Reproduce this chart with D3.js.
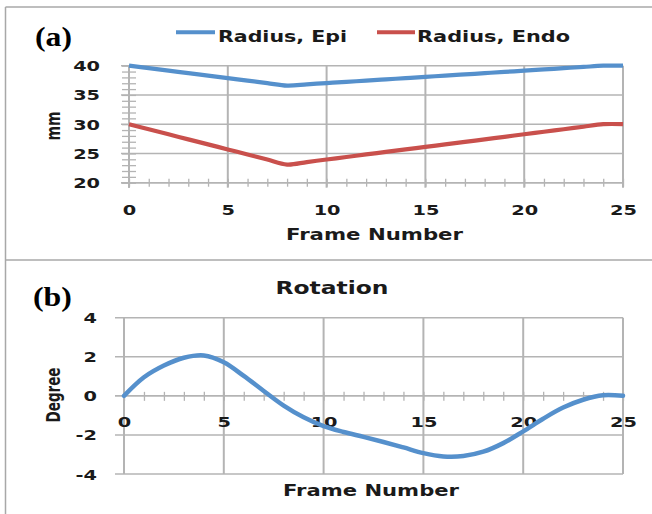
<!DOCTYPE html>
<html><head><meta charset="utf-8">
<script src="https://cdn.jsdelivr.net/npm/d3@7"></script>
<style>
html,body{margin:0;padding:0;background:#fff;}
svg{display:block;}
text{font-family:"DejaVu Sans",Verdana,sans-serif;font-weight:bold;fill:#1a1a1a;}
</style></head>
<body>
<script>
// ---- data ----
const frames = [0,1,2,3,4,5,6,7,8,9,10,11,12,13,14,15,16,17,18,19,20,21,22,23,24,25];
const radiusEpi  = [40.0,39.58,39.15,38.73,38.30,37.88,37.45,37.03,36.6,36.81,37.03,37.24,37.45,37.66,37.88,38.09,38.30,38.51,38.73,38.94,39.15,39.36,39.58,39.79,40.0,40.0];
const radiusEndo = [30.0,29.14,28.28,27.41,26.55,25.69,24.83,23.96,23.1,23.53,23.96,24.39,24.83,25.26,25.69,26.12,26.55,26.98,27.41,27.84,28.28,28.71,29.14,29.57,30.0,30.0];
const rotation   = [0,0.95,1.55,1.95,2.07,1.72,1.02,0.25,-0.5,-1.1,-1.55,-1.85,-2.1,-2.36,-2.64,-2.93,-3.1,-3.08,-2.86,-2.42,-1.82,-1.17,-0.6,-0.2,0.03,0.0];
const seriesNamesA = ["Radius, Epi","Radius, Endo"];
const xTicks = [0,5,10,15,20,25];
const yTicksA = [20,25,30,35,40];
const yTicksB = [-4,-2,0,2,4];
const minorX = frames;
const minorYA = [20,21,22,23,24,25,26,27,28,29,30,31,32,33,34,35,36,37,38,39,40];

// ---- style ----
const W = 652, H = 514;
const SX = 1.38;
const gridC = "#b4b4b4";
const blue = "#5590cc", red = "#c9504c";
const fmt = d => String(d);

const svg = d3.select("body").append("svg").attr("width", W).attr("height", H);

// outer frame
const frameC = "#a8a8a8";
svg.append("line").attr("x1",5.5).attr("x2",W).attr("y1",7).attr("y2",7).attr("stroke",frameC).attr("stroke-width",1.5);
svg.append("line").attr("x1",5.5).attr("x2",5.5).attr("y1",7).attr("y2",H).attr("stroke",frameC).attr("stroke-width",1.5);
svg.append("line").attr("x1",5.5).attr("x2",W).attr("y1",260).attr("y2",260).attr("stroke",frameC).attr("stroke-width",1.5);

function styleAxis(g){
  g.selectAll("path.domain").remove();
  g.selectAll("line").attr("stroke", gridC).attr("stroke-width",1.3);
}

// ================= Panel (a) =================
const xA = d3.scaleLinear().domain([0,25]).range([129,623]);
const yA = d3.scaleLinear().domain([20,40]).range([182.7,65.7]);
const gA = svg.append("g");

gA.selectAll(".hgA").data(yTicksA).join("line")
  .attr("x1", xA(0)-8).attr("x2", xA(25))
  .attr("y1", d=>yA(d)).attr("y2", d=>yA(d))
  .attr("stroke", gridC).attr("stroke-width",1.6);
gA.selectAll(".vgA").data(xTicks).join("line")
  .attr("x1", d=>xA(d)).attr("x2", d=>xA(d))
  .attr("y1", yA(40)).attr("y2", yA(20)+5)
  .attr("stroke", gridC).attr("stroke-width",2);

const mxA = gA.append("g").attr("transform", `translate(0,${yA(20)-4})`)
  .call(d3.axisBottom(xA).tickValues(minorX).tickSize(8).tickFormat(""));
styleAxis(mxA);
const myA = gA.append("g").attr("transform", `translate(${xA(0)+7},0)`)
  .call(d3.axisLeft(yA).tickValues(minorYA).tickSize(14).tickFormat(""));
styleAxis(myA);

const axA = gA.append("g").attr("transform", `translate(0,${yA(20)})`)
  .call(d3.axisBottom(xA).tickValues(xTicks).tickSize(0).tickFormat(fmt));
axA.select("path.domain").remove();
axA.selectAll("text").attr("y",32.3).attr("dy",0).attr("font-size",14).attr("fill","#1a1a1a")
  .attr("transform",`scale(${SX},1)`);
const ayA = gA.append("g").attr("transform", `translate(${xA(0)},0)`)
  .call(d3.axisLeft(yA).tickValues(yTicksA).tickSize(0).tickFormat(fmt));
ayA.select("path.domain").remove();
ayA.selectAll("text").attr("x",-29/SX).attr("dy","0.36em").attr("font-size",14).attr("fill","#1a1a1a")
  .attr("transform",`scale(${SX},1)`);

gA.append("line").attr("x1",xA(0)).attr("x2",xA(0)).attr("y1",yA(40)).attr("y2",yA(20)+5).attr("stroke",gridC).attr("stroke-width",2);
gA.append("line").attr("x1",xA(0)-8).attr("x2",xA(25)).attr("y1",yA(20)).attr("y2",yA(20)).attr("stroke",gridC).attr("stroke-width",1.6);

const lineA = d3.line().x((d,i)=>xA(frames[i])).y(d=>yA(d)).curve(d3.curveCatmullRom.alpha(0.5));
gA.append("path").datum(radiusEndo).attr("d",lineA).attr("fill","none").attr("stroke",red).attr("stroke-width",4.2).attr("stroke-linejoin","round");
gA.append("path").datum(radiusEpi).attr("d",lineA).attr("fill","none").attr("stroke",blue).attr("stroke-width",4.2).attr("stroke-linejoin","round");

// legend
const legA = [{name:seriesNamesA[0],c:blue,x1:176,x2:215,tx:218,w:129},{name:seriesNamesA[1],c:red,x1:377,x2:415,tx:417,w:153}];
legA.forEach(l=>{
  gA.append("line").attr("x1",l.x1).attr("x2",l.x2).attr("y1",32.3).attr("y2",32.3).attr("stroke",l.c).attr("stroke-width",4);
  gA.append("text").attr("x",l.tx).attr("y",41.5).attr("font-size",15)
    .attr("textLength",l.w).attr("lengthAdjust","spacingAndGlyphs").text(l.name);
});

gA.append("text").attr("x",374.5).attr("y",240).attr("text-anchor","middle").attr("font-size",15)
  .attr("textLength",177).attr("lengthAdjust","spacingAndGlyphs").text("Frame Number");
gA.append("text").attr("text-anchor","middle").attr("font-size",14).attr("dy","0.35em")
  .attr("transform",`translate(53,126) scale(${SX},1) rotate(-90)`).text("mm");
gA.append("text").attr("x",35).attr("y",46).attr("font-size",28)
  .style("font-family","'Liberation Serif','Times New Roman',serif").style("fill","#000")
  .attr("textLength",37).attr("lengthAdjust","spacingAndGlyphs").text("(a)");

// ================= Panel (b) =================
const xB = d3.scaleLinear().domain([0,25]).range([124,623]);
const yB = d3.scaleLinear().domain([-4,4]).range([474,317.7]);
const gB = svg.append("g");

gB.selectAll(".hgB").data(yTicksB).join("line")
  .attr("x1", xB(0)-9).attr("x2", xB(25))
  .attr("y1", d=>yB(d)).attr("y2", d=>yB(d))
  .attr("stroke", gridC).attr("stroke-width",1.6);
gB.selectAll(".vgB").data(xTicks).join("line")
  .attr("x1", d=>xB(d)).attr("x2", d=>xB(d))
  .attr("y1", yB(4)).attr("y2", yB(-4))
  .attr("stroke", gridC).attr("stroke-width",2);

const mxB = gB.append("g").attr("transform", `translate(0,${yB(0)-4})`)
  .call(d3.axisBottom(xB).tickValues(minorX).tickSize(9).tickFormat(""));
styleAxis(mxB);

const axB = gB.append("g").attr("transform", `translate(0,${yB(0)})`)
  .call(d3.axisBottom(xB).tickValues(xTicks).tickSize(0).tickFormat(fmt));
axB.select("path.domain").remove();
axB.selectAll("text").attr("y",31).attr("dy",0).attr("font-size",14).attr("fill","#1a1a1a")
  .attr("transform",`scale(${SX},1)`);
const ayB = gB.append("g").attr("transform", `translate(${xB(0)},0)`)
  .call(d3.axisLeft(yB).tickValues(yTicksB).tickSize(0).tickFormat(fmt));
ayB.select("path.domain").remove();
ayB.selectAll("text").attr("x",-27/SX).attr("dy","0.36em").attr("font-size",14).attr("fill","#1a1a1a")
  .attr("transform",`scale(${SX},1)`);

const lineB = d3.line().x((d,i)=>xB(frames[i])).y(d=>yB(d)).curve(d3.curveCatmullRom.alpha(0.5));
gB.append("path").datum(rotation).attr("d",lineB).attr("fill","none").attr("stroke",blue).attr("stroke-width",4.5).attr("stroke-linecap","round");

gB.append("text").attr("x",332).attr("y",294).attr("text-anchor","middle").attr("font-size",17)
  .attr("textLength",113).attr("lengthAdjust","spacingAndGlyphs").text("Rotation");
gB.append("text").attr("x",371).attr("y",496).attr("text-anchor","middle").attr("font-size",15)
  .attr("textLength",176).attr("lengthAdjust","spacingAndGlyphs").text("Frame Number");
gB.append("text").attr("text-anchor","middle").attr("font-size",13.5).attr("dy","0.35em")
  .attr("transform",`translate(53,395) scale(${SX},1) rotate(-90)`).text("Degree");
gB.append("text").attr("x",33).attr("y",306).attr("font-size",28)
  .style("font-family","'Liberation Serif','Times New Roman',serif").style("fill","#000")
  .attr("textLength",39).attr("lengthAdjust","spacingAndGlyphs").text("(b)");
</script>
</body></html>
